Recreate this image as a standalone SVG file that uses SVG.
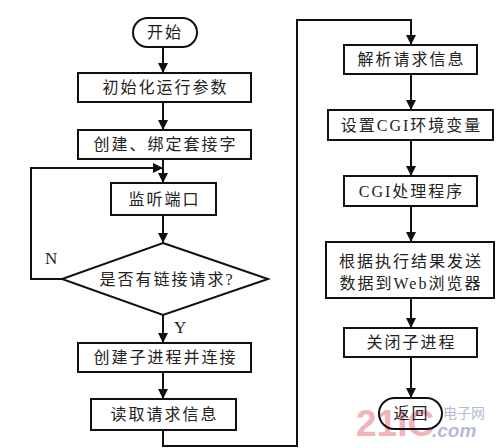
<svg xmlns="http://www.w3.org/2000/svg" width="498" height="448" viewBox="0 0 498 448">
<defs>
<marker id="ah" markerUnits="userSpaceOnUse" markerWidth="10" markerHeight="12" viewBox="0 0 10 12" refX="10" refY="6" orient="auto">
<path d="M0,1 L10,6 L0,11 Z" fill="#111"/>
</marker>
</defs>
<style>
.box{fill:#fff;stroke:#111;stroke-width:2}
.term{fill:none;stroke:#111;stroke-width:2}
.t{font-family:"Liberation Serif","Noto Sans CJK SC",serif;font-size:16px;letter-spacing:2px;fill:#222;text-anchor:middle;dominant-baseline:central}
.c{fill:none;stroke:#111;stroke-width:2}
.lbl{font-family:"Liberation Serif",serif;font-size:17px;fill:#222}
</style>
<rect width="498" height="448" fill="#fff"/>
<g id="watermark" opacity="0.75">
<text x="356" y="436" font-family="Liberation Sans,sans-serif" font-weight="bold" font-size="37" fill="#ee9aa2">21IC</text>
<text x="443" y="418" font-family="Noto Sans CJK SC,sans-serif" font-size="14" fill="#9aa4cc">电子网</text>
<text x="432" y="437" font-family="Liberation Sans,sans-serif" font-style="italic" font-weight="bold" font-size="19" fill="#9aa4cc">.com</text>
</g>
<g id="connectors">
<path class="c" d="M163,47 V73" marker-end="url(#ah)"/>
<path class="c" d="M163,102 V130" marker-end="url(#ah)"/>
<path class="c" d="M163,159 V183" marker-end="url(#ah)"/>
<path class="c" d="M62,279 H31 V168 H163" marker-end="url(#ah)"/>
<path class="c" d="M163,215 V243" marker-end="url(#ah)"/>
<path class="c" d="M163,315 V343" marker-end="url(#ah)"/>
<path class="c" d="M163,372 V399" marker-end="url(#ah)"/>
<path class="c" d="M163,430 V446 H297 V20 H411 V45" marker-end="url(#ah)"/>
<path class="c" d="M411,74 V110" marker-end="url(#ah)"/>
<path class="c" d="M411,140 V176" marker-end="url(#ah)"/>
<path class="c" d="M411,206 V242" marker-end="url(#ah)"/>
<path class="c" d="M411,298 V328" marker-end="url(#ah)"/>
<path class="c" d="M411,357 V398" marker-end="url(#ah)"/>
<text class="lbl" x="45" y="264">N</text>
<text class="lbl" x="174" y="333">Y</text>
</g>
<g id="start"><rect class="term" x="133" y="18" width="64" height="29" rx="14.5"/><text class="t" x="165" y="32.5">开始</text></g>
<g id="init"><rect class="box" x="78" y="73" width="173" height="29"/><text class="t" x="165.5" y="87.5">初始化运行参数</text></g>
<g id="bind"><rect class="box" x="78" y="130" width="173" height="29"/><text class="t" x="165.5" y="144.5">创建、绑定套接字</text></g>
<g id="listen"><rect class="box" x="111" y="183" width="105" height="32"/><text class="t" x="164.5" y="199">监听端口</text></g>
<g id="decision"><path class="box" d="M163,243 L268,279 L163,315 L62,279 Z"/><text class="t" x="167" y="279">是否有链接请求?</text></g>
<g id="fork"><rect class="box" x="78" y="343" width="173" height="29"/><text class="t" x="165.5" y="357.5">创建子进程并连接</text></g>
<g id="read"><rect class="box" x="91" y="399" width="145" height="31"/><text class="t" x="164.5" y="414.5">读取请求信息</text></g>
<g id="parse"><rect class="box" x="344" y="45" width="133" height="29"/><text class="t" x="411.5" y="59.5">解析请求信息</text></g>
<g id="setenv"><rect class="box" x="328" y="110" width="165" height="30"/><text class="t" x="411.5" y="125" letter-spacing="1">设置CGI环境变量</text></g>
<g id="cgi"><rect class="box" x="344" y="176" width="133" height="30"/><text class="t" x="411.5" y="191">CGI处理程序</text></g>
<g id="send"><rect class="box" x="326" y="242" width="168" height="56"/><text class="t" x="411" y="261">根据执行结果发送</text><text class="t" x="411" y="283">数据到Web浏览器</text></g>
<g id="close"><rect class="box" x="344" y="328" width="133" height="29"/><text class="t" x="411.5" y="342.5">关闭子进程</text></g>
<g id="return"><rect class="term" x="379" y="398" width="63" height="31" rx="15.5"/><text class="t" x="411.5" y="413.5">返回</text></g>
</svg>
